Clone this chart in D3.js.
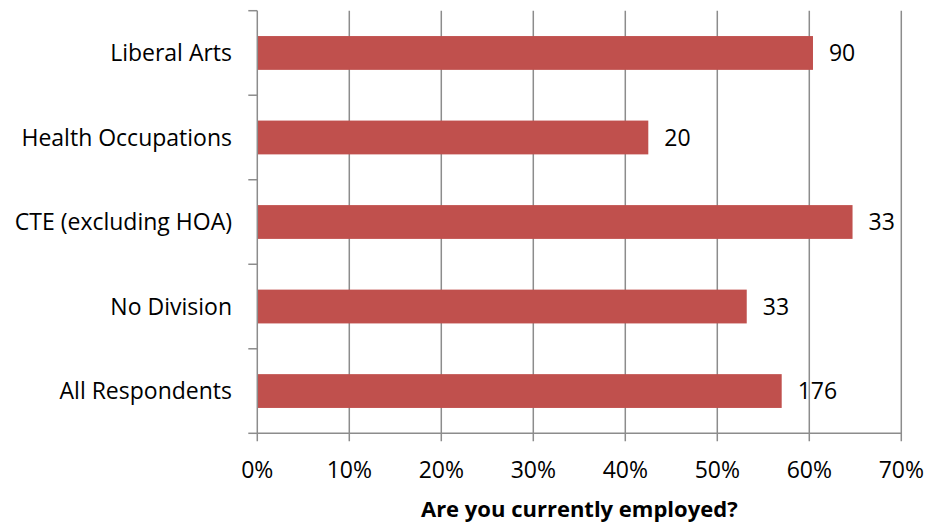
<!DOCTYPE html>
<html><head><meta charset="utf-8">
<script src="https://cdn.jsdelivr.net/npm/d3@7"></script>
<style>body{margin:0;background:#fff}svg{display:block}text{font-family:"Open Sans",Lato,sans-serif}</style>
</head><body>
<script>
const categories = ["Liberal Arts","Health Occupations","CTE (excluding HOA)","No Division","All Respondents"];
const values = [0.604, 0.425, 0.647, 0.532, 0.570];
const counts = ["90","20","33","33","176"];
const xTicks = [0,0.1,0.2,0.3,0.4,0.5,0.6,0.7];
const xTitle = "Are you currently employed?";

(function(){
const W=926,H=525;
const mL=257.3,mR=901.3,mT=10.7,mB=433.3;
const svg=d3.select("body").append("svg").attr("width",W).attr("height",H);
const x=d3.scaleLinear().domain([0,0.7]).range([mL,mR]);
const y=d3.scaleBand().domain(categories).range([mT,mB]).paddingInner(0.6).paddingOuter(0.3);
const grey="#8c8c8c";
svg.append("g").selectAll("line").data(xTicks.slice(1)).join("line")
 .attr("x1",d=>x(d)).attr("x2",d=>x(d)).attr("y1",mT).attr("y2",mB+8)
 .attr("stroke",grey).attr("stroke-width",1.5);
svg.append("g").selectAll("rect").data(categories).join("rect")
 .attr("x",x(0)).attr("y",d=>y(d)).attr("width",(d,i)=>x(values[i])-x(0)).attr("height",y.bandwidth())
 .attr("fill","#C0504D");
svg.append("line").attr("x1",mL).attr("x2",mL).attr("y1",mT).attr("y2",mB+8).attr("stroke",grey).attr("stroke-width",1.5);
svg.append("line").attr("x1",mL).attr("x2",mR).attr("y1",mB).attr("y2",mB).attr("stroke",grey).attr("stroke-width",1.5);
const step=y.step(), off=(step-y.bandwidth())/2;
const yt=categories.map(c=>y(c)-off).concat([y(categories[categories.length-1])+y.bandwidth()+off]);
svg.append("g").selectAll("line").data(yt).join("line")
 .attr("x1",mL-9).attr("x2",mL).attr("y1",d=>d).attr("y2",d=>d).attr("stroke",grey).attr("stroke-width",1.5);
const fs=23;
svg.append("g").selectAll("text").data(categories).join("text")
 .attr("x",232).attr("y",d=>y(d)+y.bandwidth()/2).attr("dy","0.36em").attr("text-anchor","end")
 .attr("font-size",fs).attr("fill","#000").text(d=>d);
svg.append("g").selectAll("text").data(categories).join("text")
 .attr("x",(d,i)=>x(values[i])+16).attr("y",d=>y(d)+y.bandwidth()/2).attr("dy","0.36em")
 .attr("font-size",fs).attr("fill","#000").text((d,i)=>counts[i]);
svg.append("g").selectAll("text").data(xTicks).join("text")
 .attr("x",d=>x(d)).attr("y",478).attr("text-anchor","middle")
 .attr("font-size",fs).attr("fill","#000").text(d=>d3.format(".0%")(d));
svg.append("text").attr("x",(mL+mR)/2).attr("y",517).attr("text-anchor","middle")
 .attr("font-size",22).attr("font-weight","bold").attr("fill","#000").text(xTitle);
})();
</script>
</body></html>
